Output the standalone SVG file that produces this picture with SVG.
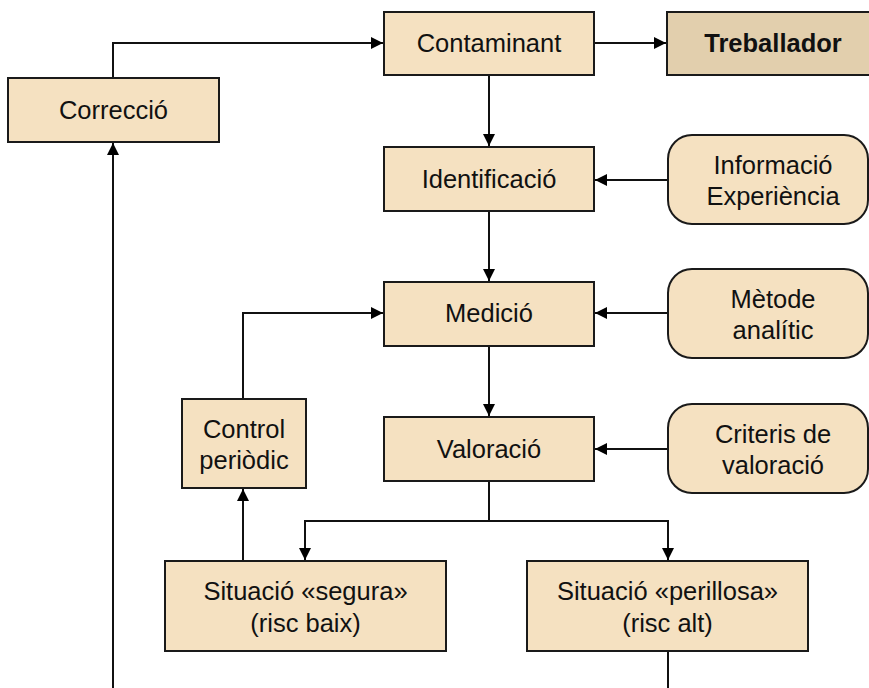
<svg xmlns="http://www.w3.org/2000/svg" width="869" height="688" viewBox="0 0 869 688">
<defs>
<marker id="arr" viewBox="0 0 12 12" refX="12" refY="6" markerWidth="12" markerHeight="12" markerUnits="userSpaceOnUse" orient="auto">
<path d="M0,0 L12,6 L0,12 Z" fill="#000"/>
</marker>
<style>
.box{fill:#f5e1c1;stroke:#1a1a1a;stroke-width:2}
.dark{fill:#e2cfad;stroke:#1a1a1a;stroke-width:2}
.t{font-family:"Liberation Sans",Arial,sans-serif;font-size:25.5px;fill:#111;text-anchor:middle}
.b{font-weight:bold}
.c{fill:none;stroke:#111;stroke-width:2}
</style>
</defs>
<rect width="869" height="688" fill="#fff"/>
<g id="connectors">
<path class="c" d="M113,78 V43 H383" marker-end="url(#arr)"/>
<path class="c" d="M594,43 H666" marker-end="url(#arr)"/>
<path class="c" d="M489,75 V146" marker-end="url(#arr)"/>
<path class="c" d="M667,180 H595" marker-end="url(#arr)"/>
<path class="c" d="M489,211 V281" marker-end="url(#arr)"/>
<path class="c" d="M667,313 H595" marker-end="url(#arr)"/>
<path class="c" d="M489,346 V416" marker-end="url(#arr)"/>
<path class="c" d="M667,449 H595" marker-end="url(#arr)"/>
<path class="c" d="M489,482 V521 H305 V560" marker-end="url(#arr)"/>
<path class="c" d="M489,521 H668 V560" marker-end="url(#arr)"/>
<path class="c" d="M243,561 V489" marker-end="url(#arr)"/>
<path class="c" d="M243,399 V313 H383" marker-end="url(#arr)"/>
<path class="c" d="M668,651 V688"/>
<path class="c" d="M113,688 V143" marker-end="url(#arr)"/>
</g>
<g id="correccio">
<rect class="box" x="8" y="78" width="211" height="64"/>
<text class="t" x="113.5" y="119">Correcció</text>
</g>
<g id="contaminant">
<rect class="box" x="384" y="12" width="210" height="63"/>
<text class="t" x="489" y="52">Contaminant</text>
</g>
<g id="treballador">
<rect class="dark" x="667" y="12" width="215" height="63"/>
<text class="t b" x="773" y="52">Treballador</text>
</g>
<g id="identificacio">
<rect class="box" x="384" y="147" width="210" height="64"/>
<text class="t" x="489" y="188">Identificació</text>
</g>
<g id="informacio">
<rect class="box" x="668" y="135" width="200" height="89" rx="24"/>
<text class="t" x="773" y="174">Informació</text>
<text class="t" x="773" y="205">Experiència</text>
</g>
<g id="medicio">
<rect class="box" x="384" y="282" width="210" height="64"/>
<text class="t" x="489" y="322">Medició</text>
</g>
<g id="metode">
<rect class="box" x="668" y="269" width="200" height="89" rx="24"/>
<text class="t" x="773" y="308">Mètode</text>
<text class="t" x="773" y="339">analític</text>
</g>
<g id="valoracio">
<rect class="box" x="384" y="417" width="210" height="64"/>
<text class="t" x="489" y="458">Valoració</text>
</g>
<g id="criteris">
<rect class="box" x="668" y="404" width="200" height="89" rx="24"/>
<text class="t" x="773" y="443">Criteris de</text>
<text class="t" x="773" y="474">valoració</text>
</g>
<g id="control">
<rect class="box" x="182" y="399" width="124" height="89"/>
<text class="t" x="244" y="438">Control</text>
<text class="t" x="244" y="469">periòdic</text>
</g>
<g id="segura">
<rect class="box" x="165" y="561" width="281" height="90"/>
<text class="t" x="305.5" y="600">Situació «segura»</text>
<text class="t" x="305.5" y="632">(risc baix)</text>
</g>
<g id="perillosa">
<rect class="box" x="527" y="561" width="281" height="90"/>
<text class="t" x="667.5" y="600">Situació «perillosa»</text>
<text class="t" x="667.5" y="632">(risc alt)</text>
</g>
</svg>
